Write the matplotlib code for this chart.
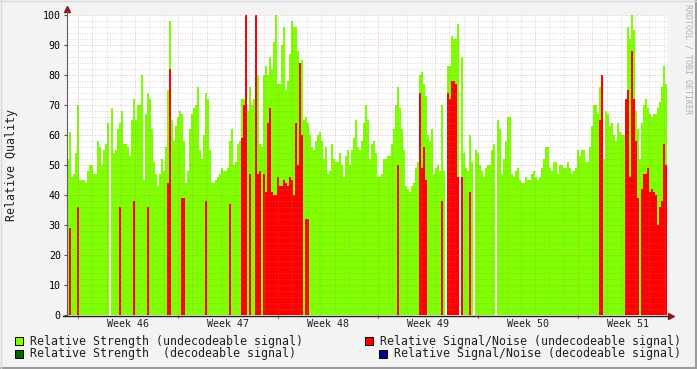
import numpy as np
import matplotlib
matplotlib.use("Agg")
import matplotlib.pyplot as plt
from matplotlib.lines import Line2D
from matplotlib.patches import Rectangle

# samples: 300 steps over 6 weeks (3.36 h each), start 0.77 days before week 46
strength_undec = [
    52, 61, 46, 47, 54, 70, 45, 45, 45, 44,
    48, 50, 50, 47, 47, 58, 56, 50, 55, 57,
    64, 0, 69, 54, 55, 62, 64, 68, 57, 57,
    56, 53, 65, 72, 65, 70, 70, 80, 45, 67,
    74, 72, 62, 51, 47, 43, 47, 52, 48, 56,
    75, 98, 65, 58, 63, 66, 68, 67, 58, 44,
    48, 62, 67, 69, 70, 76, 55, 52, 60, 74,
    72, 55, 44, 44, 45, 46, 47, 49, 48, 48,
    49, 58, 62, 50, 51, 57, 58, 72, 72, 74,
    68, 76, 70, 72, 93, 80, 57, 56, 80, 83,
    80, 86, 82, 91, 100, 77, 77, 90, 96, 75,
    78, 87, 98, 96, 96, 88, 84, 85, 65, 66,
    64, 60, 56, 55, 58, 60, 61, 58, 52, 56,
    47, 48, 57, 52, 51, 51, 54, 50, 46, 53,
    55, 50, 55, 59, 65, 56, 55, 58, 64, 70,
    65, 52, 57, 58, 54, 46, 46, 47, 52, 52,
    53, 53, 57, 62, 70, 76, 69, 62, 55, 43,
    42, 41, 43, 44, 49, 51, 80, 81, 77, 73,
    60, 58, 62, 47, 49, 50, 48, 70, 48, 0,
    83, 83, 93, 92, 92, 97, 0, 86, 54, 49,
    48, 60, 51, 0, 55, 54, 50, 48, 46, 49,
    50, 50, 55, 57, 0, 65, 62, 47, 52, 58,
    66, 66, 47, 46, 48, 49, 45, 44, 44, 46,
    45, 45, 47, 48, 46, 45, 46, 49, 52, 56,
    56, 49, 48, 51, 51, 47, 50, 50, 49, 49,
    51, 49, 47, 48, 49, 55, 53, 55, 55, 51,
    51, 56, 63, 70, 70, 67, 76, 70, 52, 68,
    67, 63, 64, 60, 58, 64, 61, 60, 60, 70,
    96, 92, 100, 95, 68, 62, 52, 64, 70, 72,
    69, 67, 66, 67, 67, 69, 71, 76, 83, 77,
]

snr_undec = [
    0, 29, 0, 0, 0, 36, 0, 0, 0, 0,
    0, 0, 0, 0, 0, 0, 0, 0, 0, 0,
    0, 0, 0, 0, 0, 0, 36, 0, 0, 0,
    0, 0, 0, 38, 0, 0, 0, 0, 0, 0,
    36, 0, 0, 0, 0, 0, 0, 0, 0, 0,
    44, 82, 0, 0, 0, 0, 0, 39, 39, 0,
    0, 0, 0, 0, 0, 0, 0, 0, 0, 38,
    0, 0, 0, 0, 0, 0, 0, 0, 0, 0,
    0, 37, 0, 0, 0, 0, 0, 59, 70, 100,
    0, 47, 0, 0, 100, 47, 48, 0, 47, 41,
    64, 69, 41, 40, 40, 46, 43, 43, 45, 44,
    43, 46, 45, 40, 64, 50, 84, 60, 0, 32,
    32, 0, 0, 0, 0, 0, 0, 0, 0, 0,
    0, 0, 0, 0, 0, 0, 0, 0, 0, 0,
    0, 0, 0, 0, 0, 0, 0, 0, 0, 0,
    0, 0, 0, 0, 0, 0, 0, 0, 0, 0,
    0, 0, 0, 0, 0, 50, 0, 0, 0, 0,
    0, 0, 0, 0, 0, 0, 74, 49, 56, 45,
    0, 0, 0, 0, 0, 0, 0, 38, 0, 0,
    74, 72, 78, 78, 77, 46, 0, 46, 0, 0,
    0, 41, 0, 0, 0, 0, 0, 0, 0, 0,
    0, 0, 0, 0, 0, 0, 0, 0, 0, 0,
    0, 0, 0, 0, 0, 0, 0, 0, 0, 0,
    0, 0, 0, 0, 0, 0, 0, 0, 0, 0,
    0, 0, 0, 0, 0, 0, 0, 0, 0, 0,
    0, 0, 0, 0, 0, 0, 0, 0, 0, 0,
    0, 0, 0, 0, 0, 0, 65, 80, 0, 0,
    0, 0, 0, 0, 0, 0, 0, 0, 0, 72,
    75, 46, 88, 72, 58, 39, 0, 42, 47, 47,
    49, 41, 42, 41, 40, 30, 36, 38, 57, 50,
]

week_labels = ["Week 46", "Week 47", "Week 48", "Week 49", "Week 50", "Week 51"]
legend_labels = ["Relative Strength (undecodeable signal)",
                 "Relative Strength  (decodeable signal)",
                 "Relative Signal/Noise (undecodeable signal)",
                 "Relative Signal/Noise (decodeable signal)"]

GREEN = "#80ff00"
DKGREEN = "#006400"
RED = "#ff0000"
BLUE = "#000090"
BG = "#f3f3f3"
MONO = "DejaVu Sans Mono"

W, H = 697, 369
def fx(x):
    return x / W
def fy(y):
    return 1 - y / H

fig = plt.figure(figsize=(W / 100, H / 100), dpi=100, facecolor=BG)
ax = fig.add_axes([fx(67), fy(315), 600 / W, 300 / H])
ax.set_facecolor("white")

x0 = -0.77
edges = x0 + np.arange(len(strength_undec) + 1) * 42 / len(strength_undec)
ax.stairs(strength_undec, edges, fill=True, color=GREEN, lw=0)
ax.stairs(snr_undec, edges, fill=True, color=RED, lw=0)

ax.set_xlim(x0, x0 + 42)
ax.set_ylim(0, 100)
ax.set_yticks(range(0, 101, 10))
ax.set_yticks(range(0, 101, 2), minor=True)
ax.set_xticks(range(0, 42, 7))
ax.set_xticks(range(0, 42), minor=True)
ax.set_xticklabels([])
ax.set_axisbelow(False)
ax.grid(which="minor", color="#909090", alpha=0.5, lw=0.6, ls=(0, (1, 2)))
ax.grid(which="major", color="#d06060", alpha=0.6, lw=0.6, ls=(0, (1, 2)))
for s in ax.spines.values():
    s.set_visible(False)
ax.tick_params(axis="y", which="major", length=2, width=0.8, color="#505050",
               pad=2.5, labelsize=7.2, labelfontfamily=MONO)
ax.tick_params(axis="x", which="major", length=2, width=0.8, color="#b03030")
ax.tick_params(which="minor", length=0)

for k, lab in enumerate(week_labels):
    ax.text(3.5 + 7 * k, -0.03, lab, transform=ax.get_xaxis_transform(),
            ha="center", va="center", fontsize=7.2, family=MONO, color="#202020")

# axes with arrows
fig.add_artist(Line2D([fx(67), fx(67)], [fy(316), fy(11)], color="#606060", lw=0.8))
fig.add_artist(Line2D([fx(63), fx(669)], [fy(315.5), fy(315.5)], color="#202020", lw=1.0))
ax.plot([fx(67)], [fy(9)], marker="^", ms=4, color="#8b1a1a", transform=fig.transFigure, clip_on=False)
ax.plot([fx(671)], [fy(315.5)], marker=">", ms=4, color="#8b1a1a", transform=fig.transFigure, clip_on=False)

fig.text(fx(12), fy(165), "Relative Quality", rotation=90, ha="center", va="center",
         fontsize=8.35, family=MONO, color="#202020")
fig.text(fx(688), fy(4), "RRDTOOL / TOBI OETIKER", rotation=-90, ha="center", va="top",
         fontsize=6, family=MONO, color="#b0b0b0")

# legend
items = [(15, 341, GREEN, legend_labels[0]), (15, 354, DKGREEN, legend_labels[1]),
         (365, 341, RED, legend_labels[2]), (379, 354, BLUE, legend_labels[3])]
for x, y, c, t in items:
    fig.patches.append(Rectangle((fx(x), fy(y + 4)), 8 / W, 8 / H, transform=fig.transFigure,
                                 facecolor=c, edgecolor="black", lw=0.7))
    fig.text(fx(x + 15), fy(y), t, ha="left", va="center", fontsize=8.35, family=MONO, color="#202020")

# frame shading
fig.add_artist(Line2D([0, 1], [fy(368), fy(368)], color="#9c9c9c", lw=1.5))
fig.add_artist(Line2D([fx(696), fx(696)], [0, 1], color="#9c9c9c", lw=1.5))
fig.add_artist(Line2D([0, 1], [fy(0.5), fy(0.5)], color="#d8d8d8", lw=1.0))
fig.add_artist(Line2D([fx(0.5), fx(0.5)], [0, 1], color="#d8d8d8", lw=1.0))

fig.savefig("out.png", dpi=100, facecolor=BG)
